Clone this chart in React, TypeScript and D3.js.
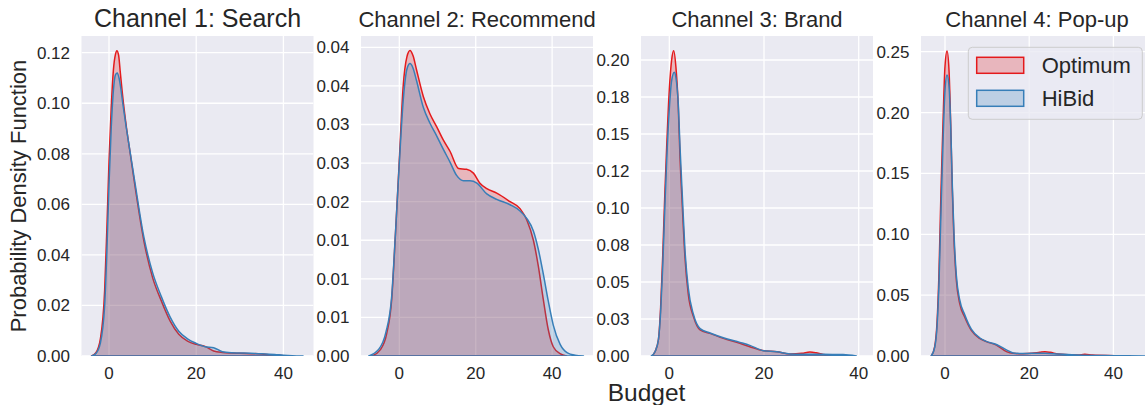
import React from 'react';
import * as d3 from 'd3';

// ---------- data ----------
const titles = ['Channel 1: Search', 'Channel 2: Recommend', 'Channel 3: Brand', 'Channel 4: Pop-up'];
const seriesNames = ['Optimum', 'HiBid'];
const xTickValues = [0, 20, 40];

const yTicks1 = [0, 0.02, 0.04, 0.06, 0.08, 0.1, 0.12];
const yLabels1 = ['0.00', '0.02', '0.04', '0.06', '0.08', '0.10', '0.12'];
const yTicks2 = [0, 0.005, 0.01, 0.015, 0.02, 0.025, 0.03, 0.035, 0.04];
const yLabels2 = ['0.00', '0.01', '0.01', '0.01', '0.02', '0.03', '0.03', '0.04', '0.04'];
const yTicks3 = [0, 0.025, 0.05, 0.075, 0.1, 0.125, 0.15, 0.175, 0.2];
const yLabels3 = ['0.00', '0.03', '0.05', '0.08', '0.10', '0.12', '0.15', '0.18', '0.20'];
const yTicks4 = [0, 0.05, 0.1, 0.15, 0.2, 0.25];
const yLabels4 = ['0.00', '0.05', '0.10', '0.15', '0.20', '0.25'];

// Channel 1
const optX1 = [-4, -3, -2, -1, -0.5, 0, 0.5, 1, 1.5, 1.8, 2.2, 2.6, 3, 4, 5, 6, 8, 10, 12, 14, 16, 18, 20, 22, 24, 26, 28, 30, 35, 37, 40, 41];
const optY1 = [0, 0.0013, 0.0066, 0.026, 0.05, 0.077, 0.098, 0.113, 0.1195, 0.1208, 0.119, 0.112, 0.105, 0.0904, 0.0785, 0.0667, 0.0455, 0.031, 0.0218, 0.0139, 0.0086, 0.0059, 0.0046, 0.0038, 0.002, 0.0014, 0.0012, 0.0011, 0.0008, 0.0005, 0.0001, 0];
const hiX1 = [-4, -3, -2, -1, -0.5, 0, 0.5, 1, 1.5, 1.9, 2.3, 2.7, 3, 4, 5, 6, 8, 10, 12, 14, 16, 18, 20, 22, 24, 26, 28, 30, 35, 38, 40, 42, 44.5];
const hiY1 = [0, 0.001, 0.005, 0.02, 0.041, 0.068, 0.09, 0.105, 0.1113, 0.112, 0.11, 0.106, 0.102, 0.09, 0.079, 0.068, 0.047, 0.033, 0.0235, 0.0155, 0.0098, 0.0068, 0.005, 0.0037, 0.0033, 0.0017, 0.0013, 0.0012, 0.0009, 0.0006, 0.0003, 0.0001, 0];

// Channel 2
const optX2 = [-7.3, -5, -3.3, -2, -1, 0, 1, 2, 2.8, 3.6, 4.5, 6.3, 8, 9.8, 11.5, 13.3, 15.5, 17.6, 19.4, 21.1, 22.9, 25.5, 29, 31.6, 33.4, 35.1, 36.4, 37.7, 39, 40.3, 42.1, 43.8];
const optY2 = [0, 0.0008, 0.0029, 0.0073, 0.0159, 0.0254, 0.0349, 0.0388, 0.0396, 0.0389, 0.0371, 0.0336, 0.0314, 0.0297, 0.028, 0.0265, 0.0243, 0.0242, 0.0237, 0.0224, 0.0217, 0.0211, 0.02, 0.0191, 0.0176, 0.015, 0.0116, 0.0073, 0.0034, 0.0012, 0.0003, 0];
const hiX2 = [-8, -5.5, -3.5, -2, -1, 0, 1, 2, 2.8, 3.6, 4.5, 6.3, 8, 9.8, 11.5, 13.3, 15, 16.8, 18.5, 20.3, 22.9, 25.5, 29, 31.6, 33.4, 35.1, 36.4, 37.7, 39, 40.3, 42.1, 44, 46, 48.2];
const hiY2 = [0, 0.0008, 0.0031, 0.0077, 0.016, 0.025, 0.033, 0.0372, 0.0379, 0.0373, 0.0357, 0.0322, 0.0302, 0.0285, 0.0268, 0.0251, 0.0234, 0.0227, 0.0227, 0.0224, 0.021, 0.0203, 0.0196, 0.0188, 0.0178, 0.0162, 0.0138, 0.0106, 0.0071, 0.004, 0.0015, 0.0004, 0.0001, 0];

// Channel 3
const optX3 = [-3.7, -3, -2.3, -1.83, -1.4, -0.92, -0.56, 0, 0.49, 0.92, 1.4, 1.9, 2.25, 2.75, 3.3, 4, 5.1, 6.5, 8.6, 11.4, 14.9, 17, 19.9, 22.7, 25.5, 28, 29.7, 31, 32.5, 36.7, 38.5];
const optY3 = [0, 0.003, 0.011, 0.033, 0.067, 0.112, 0.141, 0.18, 0.2, 0.2063, 0.195, 0.168, 0.135, 0.101, 0.067, 0.042, 0.0266, 0.0176, 0.0153, 0.0119, 0.0086, 0.0063, 0.0036, 0.0029, 0.0014, 0.0018, 0.0027, 0.0022, 0.0011, 0.0004, 0];
const hiX3 = [-3.8, -3, -2.3, -1.83, -1.4, -0.92, -0.56, 0, 0.49, 1.06, 1.4, 1.9, 2.25, 2.75, 3.3, 4, 5.1, 6.5, 8.6, 11.4, 14.9, 17, 19.9, 22.7, 25.5, 29.7, 32.5, 36.7, 39.5];
const hiY3 = [0, 0.003, 0.011, 0.03, 0.06, 0.103, 0.132, 0.167, 0.186, 0.1917, 0.188, 0.17, 0.142, 0.108, 0.072, 0.046, 0.028, 0.0185, 0.0155, 0.0123, 0.0092, 0.0072, 0.0036, 0.0029, 0.0014, 0.0012, 0.0011, 0.001, 0];

// Channel 4
const optX4 = [-3.25, -2.45, -1.9, -1.43, -0.95, -0.48, 0, 0.48, 0.95, 1.35, 1.74, 2.14, 2.7, 3.5, 4.67, 6.25, 8.2, 9.8, 12.2, 14.6, 16.2, 18.5, 20.6, 22.5, 23.75, 25, 26.9, 31.6, 33.2, 35, 40.3, 44];
const optY4 = [0, 0.0077, 0.027, 0.068, 0.136, 0.191, 0.238, 0.2505, 0.235, 0.191, 0.136, 0.095, 0.062, 0.043, 0.032, 0.021, 0.0145, 0.0118, 0.009, 0.0036, 0.0022, 0.0018, 0.0022, 0.003, 0.0035, 0.003, 0.0016, 0.0008, 0.0014, 0.0008, 0.0003, 0];
const hiX4 = [-3.3, -2.45, -1.9, -1.43, -0.95, -0.48, 0, 0.48, 0.95, 1.35, 1.74, 2.14, 2.7, 3.5, 4.67, 6.25, 8.2, 9.8, 12.2, 14.6, 16.2, 18.5, 20.6, 23.75, 26.9, 31.6, 40.3, 47.5];
const hiY4 = [0, 0.007, 0.024, 0.06, 0.12, 0.175, 0.218, 0.2308, 0.222, 0.19, 0.14, 0.1, 0.066, 0.046, 0.034, 0.022, 0.015, 0.012, 0.0095, 0.005, 0.0025, 0.002, 0.0022, 0.0022, 0.0016, 0.0008, 0.0003, 0];

const xLabel = 'Budget';
const yLabel = 'Probability Density Function';

// ---------- layout ----------
const W = 1145;
const H = 405;
const TOP = 36;
const BOTTOM = 356;
const PANEL_W = 232;
const panelLeft = [81.5, 361, 641, 921];
const xDomains: [number, number][] = [[-6.31, 46.9], [-10.03, 50.7], [-5.98, 43.02], [-5.7, 49.4]];
const yMax = [0.1266, 0.04147, 0.2162, 0.2629];
const titleSize = [25, 22, 22, 22];

const BG = '#EAEAF2';
const TEXT = '#262626';
const FONT = '"Liberation Sans", Arial, sans-serif';
const colors = ['#e41a1c', '#377eb8'];

const panelData = [
  { yt: yTicks1, yl: yLabels1, s: [[optX1, optY1], [hiX1, hiY1]] },
  { yt: yTicks2, yl: yLabels2, s: [[optX2, optY2], [hiX2, hiY2]] },
  { yt: yTicks3, yl: yLabels3, s: [[optX3, optY3], [hiX3, hiY3]] },
  { yt: yTicks4, yl: yLabels4, s: [[optX4, optY4], [hiX4, hiY4]] },
];

function Panel({ i }: { i: number }) {
  const left = panelLeft[i];
  const x = d3.scaleLinear().domain(xDomains[i]).range([left, left + PANEL_W]);
  const y = d3.scaleLinear().domain([0, yMax[i]]).range([BOTTOM, TOP]);
  const pd = panelData[i];
  const area = d3
    .area<[number, number]>()
    .x((d) => x(d[0]))
    .y0(y(0))
    .y1((d) => y(d[1]))
    .curve(d3.curveMonotoneX);
  const clipId = `clip-${i}`;
  return (
    <g>
      <defs>
        <clipPath id={clipId}>
          <rect x={left} y={TOP} width={PANEL_W} height={BOTTOM - TOP} />
        </clipPath>
      </defs>
      <rect x={left} y={TOP} width={PANEL_W} height={BOTTOM - TOP} fill={BG} />
      <g clipPath={`url(#${clipId})`}>
        {pd.yt.map((t, k) => (
          <line key={`h${k}`} x1={left} x2={left + PANEL_W} y1={y(t)} y2={y(t)} stroke="#fff" strokeWidth={1.3} />
        ))}
        {xTickValues.map((t, k) => (
          <line key={`v${k}`} x1={x(t)} x2={x(t)} y1={TOP} y2={BOTTOM} stroke="#fff" strokeWidth={1.3} />
        ))}
        {pd.s.map(([xs, ys], k) => {
          const pts = xs.map((xv, j) => [xv, ys[j]] as [number, number]);
          const dPath = area(pts) || '';
          return (
            <g key={`s${k}`}>
              <path d={dPath} fill={colors[k]} fillOpacity={0.25} stroke="none" />
              <path d={dPath} fill="none" stroke={colors[k]} strokeWidth={1.5} strokeLinejoin="round" />
            </g>
          );
        })}
      </g>
      {pd.yt.map((t, k) => (
        <text key={`yl${k}`} x={left - 11.5} y={y(t)} dy="0.35em" textAnchor="end" fontSize={17} fill={TEXT} fontFamily={FONT}>
          {pd.yl[k]}
        </text>
      ))}
      {xTickValues.map((t, k) => (
        <text key={`xl${k}`} x={x(t)} y={379.3} textAnchor="middle" fontSize={17} fill={TEXT} fontFamily={FONT}>
          {t}
        </text>
      ))}
      <text x={left + PANEL_W / 2} y={27.3} textAnchor="middle" fontSize={titleSize[i]} fill={TEXT} fontFamily={FONT}>
        {titles[i]}
      </text>
    </g>
  );
}

function Legend() {
  const bx = 968.3;
  const by = 47.3;
  return (
    <g fontFamily={FONT}>
      <rect x={bx} y={by} width={174} height={72} rx={4} fill={BG} fillOpacity={0.8} stroke="#cccccc" strokeWidth={1} />
      {seriesNames.map((n, k) => (
        <g key={n}>
          <rect x={976.7} y={57.3 + k * 33} width={47} height={16} fill={colors[k]} fillOpacity={0.25} stroke={colors[k]} strokeWidth={1.5} />
          <text x={1041.7} y={72.7 + k * 33.3} fontSize={22} fill={TEXT}>
            {n}
          </text>
        </g>
      ))}
    </g>
  );
}

export default function App() {
  return (
    <svg width={W} height={H} style={{ position: 'absolute', left: 0, top: 0, background: '#fff' }} xmlns="http://www.w3.org/2000/svg">
      <rect x={0} y={0} width={W} height={H} fill="#fff" />
      {titles.map((_, i) => (
        <Panel key={i} i={i} />
      ))}
      <Legend />
      <text x={646.5} y={400.5} textAnchor="middle" fontSize={24.5} fill={TEXT} fontFamily={FONT}>
        {xLabel}
      </text>
      <text transform={`translate(25.8,196) rotate(-90)`} textAnchor="middle" fontSize={22} fill={TEXT} fontFamily={FONT}>
        {yLabel}
      </text>
    </svg>
  );
}
